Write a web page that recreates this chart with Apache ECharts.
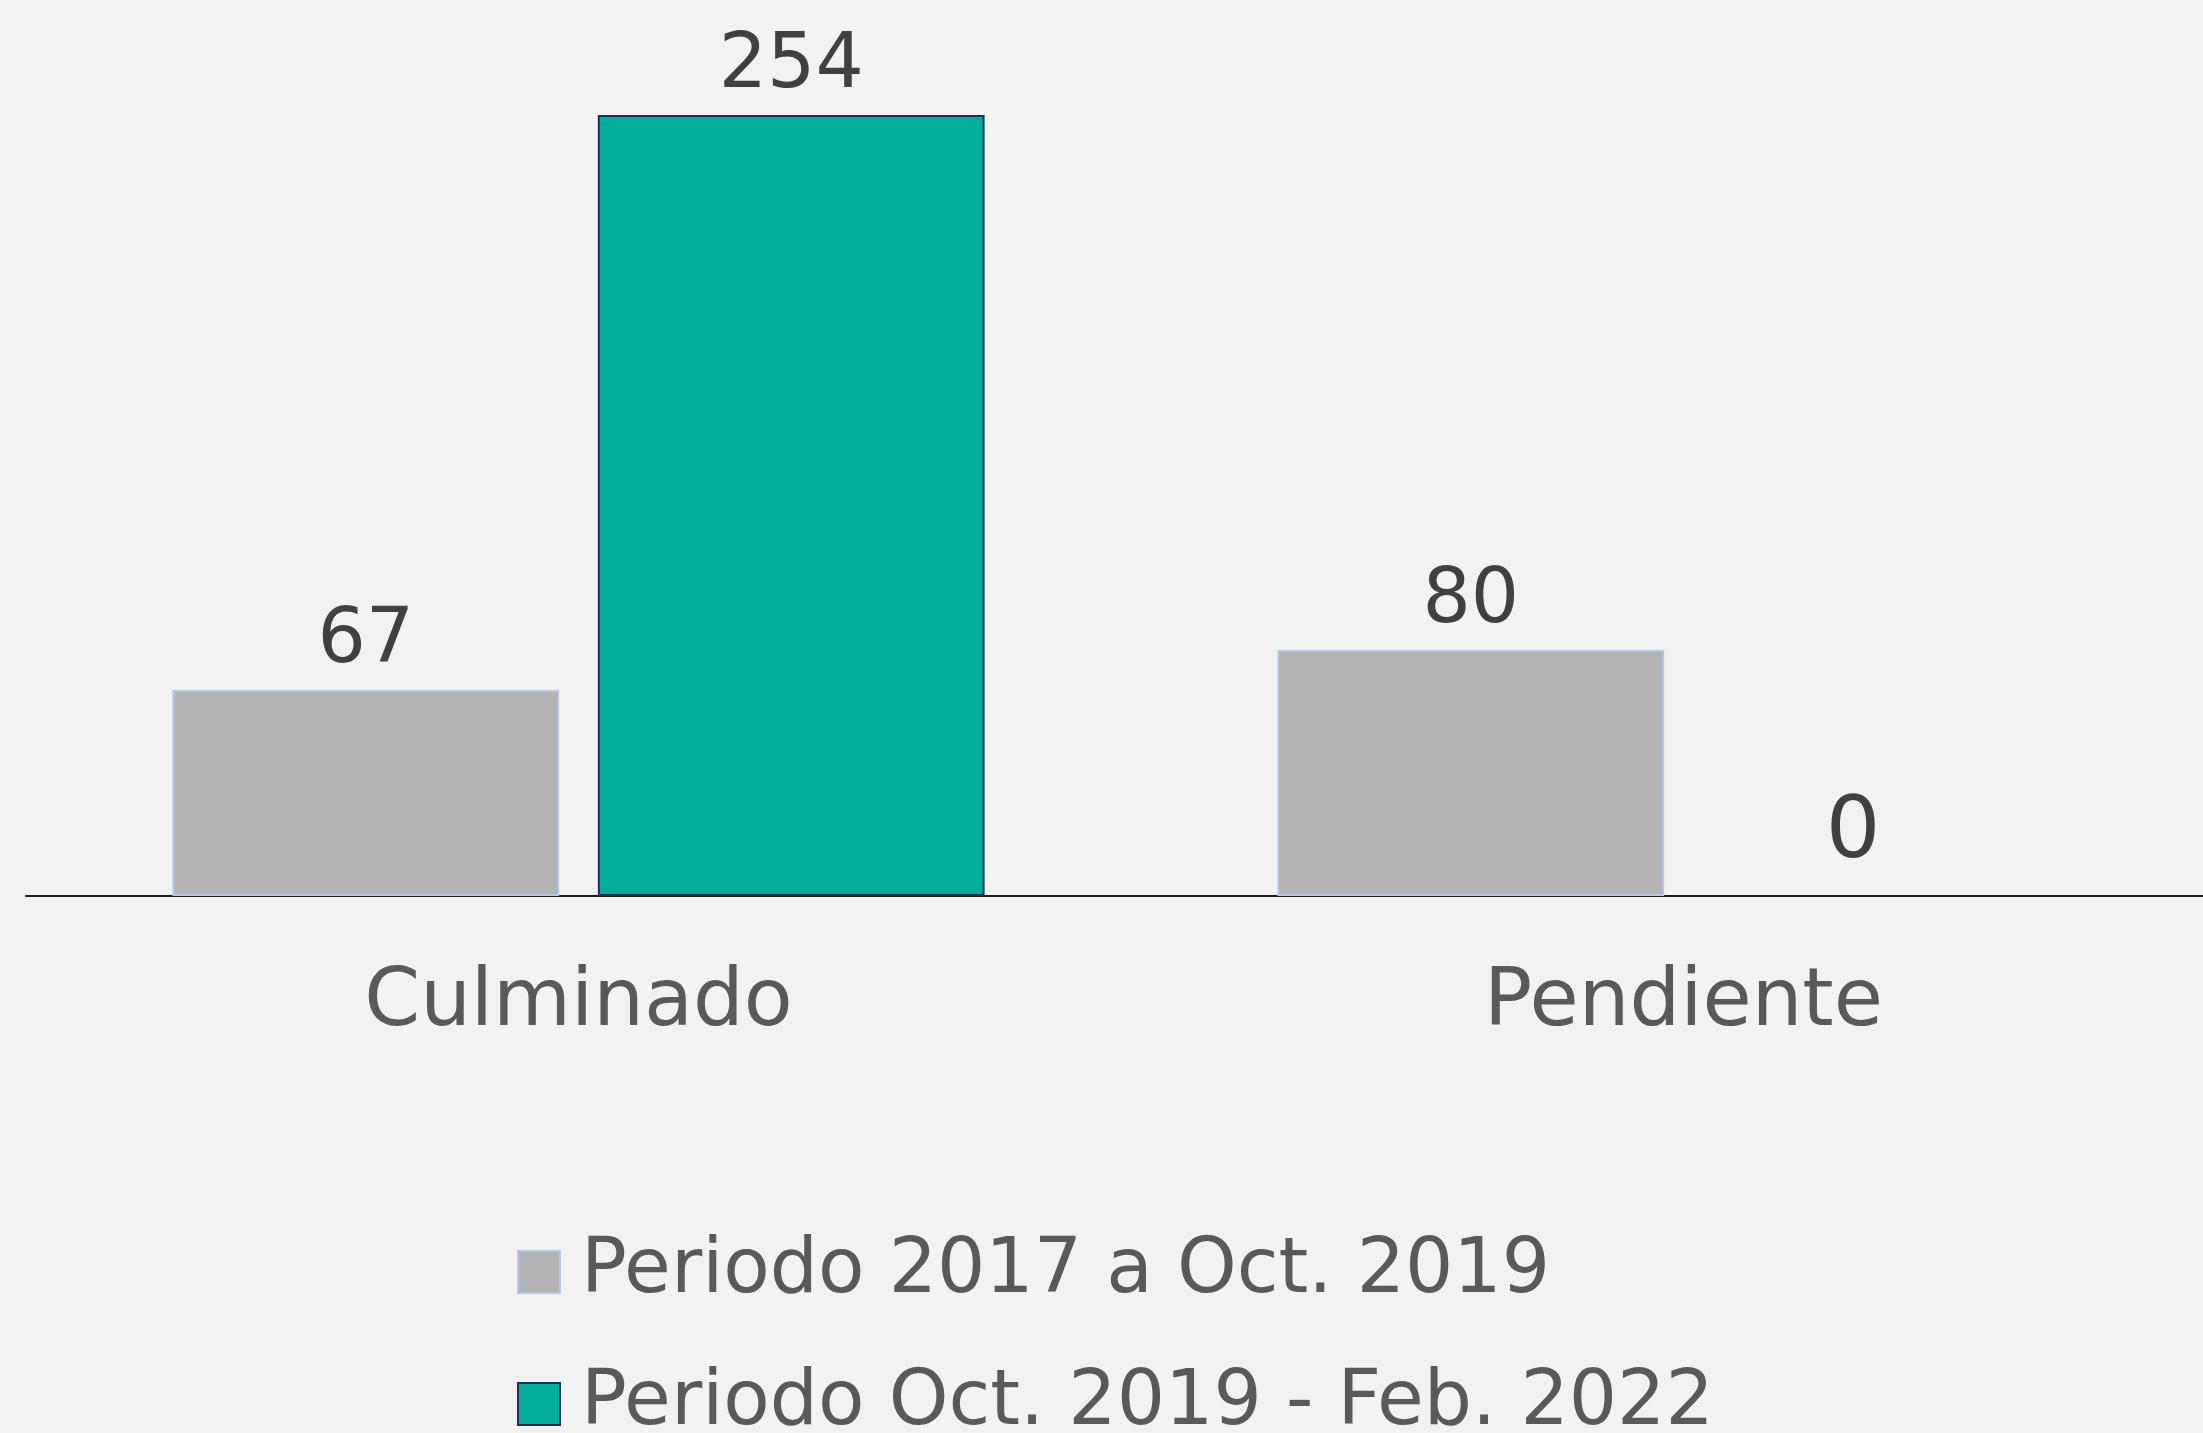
<!DOCTYPE html>
<html>
<head>
<meta charset="utf-8">
<script src="https://cdn.jsdelivr.net/npm/echarts@6/dist/echarts.min.js"></script>
<style>
  html, body { margin: 0; padding: 0; background: #F2F2F2; }
  #main { width: 2203px; height: 1433px; }
</style>
</head>
<body>
<div id="main"></div>
<script>
// datos
const categorias = ['Culminado', 'Pendiente'];
const periodo1 = [67, 80];
const periodo2 = [254, 0];
const nombres = ['Periodo 2017 a Oct. 2019', 'Periodo Oct. 2019 - Feb. 2022'];

const fuente = 'DejaVu Sans';
let chart = echarts.init(document.getElementById('main'), null, { renderer: 'canvas' });

const etiqueta = {
  show: true,
  position: 'top',
  distance: 10,
  fontFamily: fuente,
  fontSize: 76,
  color: '#404040'
};

// una leyenda por serie, apiladas
function leyenda(nombre, top) {
  return {
    orient: 'vertical',
    left: 512,
    top: top,
    icon: 'rect',
    itemWidth: 42,
    itemHeight: 42,
    textStyle: {
      fontFamily: fuente,
      fontSize: 76,
      color: '#595959',
      lineHeight: 80,
      padding: [0, 0, 0, 16]
    },
    data: [nombre]
  };
}

// el valor 0 no dibuja borde
const datos2 = periodo2.map(v => v === 0 ? {
  value: v,
  itemStyle: { borderWidth: 0 },
  label: { distance: 18, fontSize: 86, offset: [-43, 0] }
} : v);

let option = {
  backgroundColor: '#F2F2F2',
  animation: false,
  grid: {
    left: 26,
    width: 2210,
    top: 35,
    bottom: 537,
    outerBoundsMode: 'none',
    containLabel: false
  },
  legend: [leyenda(nombres[0], 1227), leyenda(nombres[1], 1359)],
  xAxis: {
    type: 'category',
    data: categorias,
    axisLine: { show: true, lineStyle: { color: '#1a1a1a', width: 2 } },
    axisTick: { show: false },
    axisLabel: {
      margin: 68,
      fontFamily: fuente,
      fontSize: 80,
      color: '#595959'
    }
  },
  yAxis: {
    type: 'value',
    min: 0,
    max: 280,
    show: false,
    splitLine: { show: false }
  },
  series: [{
    name: nombres[0],
    type: 'bar',
    data: periodo1,
    barWidth: '35%',
    barGap: '10%',
    itemStyle: {
      color: '#B3B3B3',
      borderColor: '#B4C7E7',
      borderWidth: 2
    },
    label: etiqueta
  }, {
    name: nombres[1],
    type: 'bar',
    data: datos2,
    barWidth: '35%',
    itemStyle: {
      color: '#00AE9B',
      borderColor: '#1F2F5A',
      borderWidth: 2
    },
    label: etiqueta
  }]
};

chart.setOption(option);
</script>
</body>
</html>
